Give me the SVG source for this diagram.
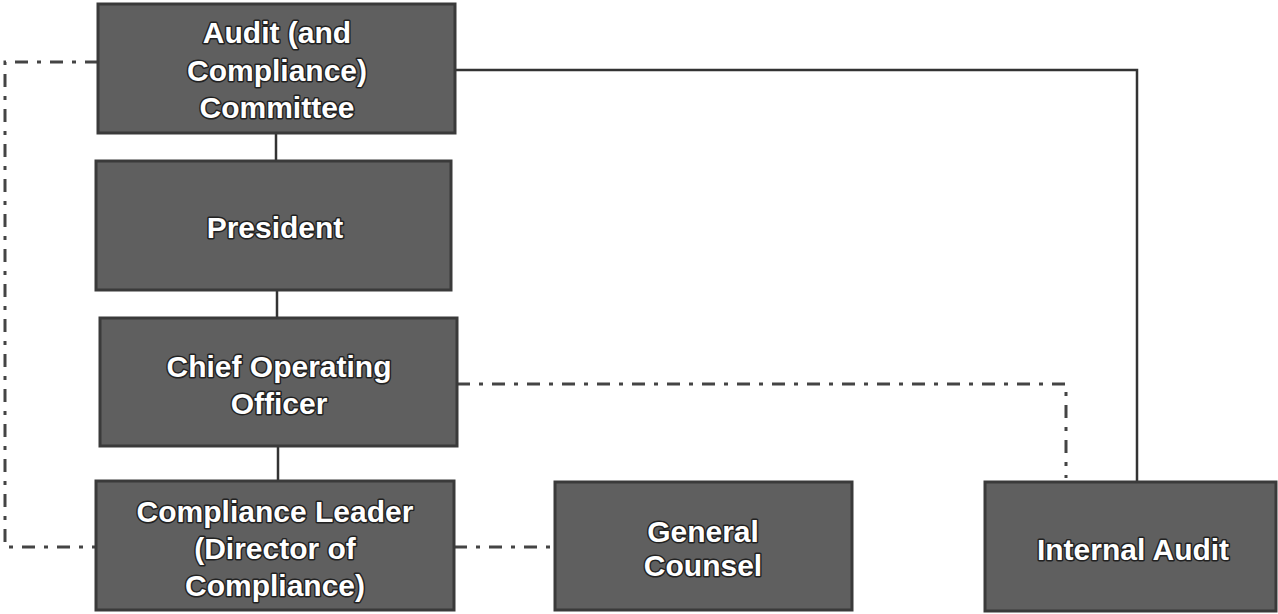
<svg xmlns="http://www.w3.org/2000/svg" width="1278" height="614" viewBox="0 0 1278 614">
<style>
.box{fill:#5f5f5f;stroke:#3a3a3a;stroke-width:3}
.t{font-family:"Liberation Sans",Arial,sans-serif;font-weight:bold;font-size:30px;fill:#ffffff;text-anchor:middle;stroke:#222;stroke-width:3px;paint-order:stroke;stroke-linejoin:round}
.solid{fill:none;stroke:#333;stroke-width:2.5}
.dd{fill:none;stroke:#444;stroke-width:3;stroke-dasharray:13,9,4,9}
</style>
<rect width="1278" height="614" fill="#ffffff"/>
<g id="connectors">
<line class="solid" x1="276" y1="133" x2="276" y2="161"/>
<line class="solid" x1="277" y1="290" x2="277" y2="318"/>
<line class="solid" x1="278" y1="446" x2="278" y2="481"/>
<polyline class="solid" points="455,70 1137,70 1137,482"/>
<polyline class="dd" points="457,384 1066,384 1066,478"/>
<polyline class="dd" points="98,62 5,62 5,547 96,547"/>
<line class="dd" x1="454" y1="547" x2="555" y2="547"/>
</g>
<g id="audit-committee">
<rect class="box" x="98" y="4" width="357" height="129"/>
<text class="t" x="277" y="43">Audit (and</text>
<text class="t" x="277" y="81">Compliance)</text>
<text class="t" x="277" y="118">Committee</text>
</g>
<g id="president">
<rect class="box" x="96" y="161" width="355" height="129"/>
<text class="t" x="275" y="238">President</text>
</g>
<g id="coo">
<rect class="box" x="100" y="318" width="357" height="128"/>
<text class="t" x="279" y="377">Chief Operating</text>
<text class="t" x="279" y="414">Officer</text>
</g>
<g id="compliance-leader">
<rect class="box" x="96" y="481" width="358" height="129"/>
<text class="t" x="275" y="522">Compliance Leader</text>
<text class="t" x="275" y="559">(Director of</text>
<text class="t" x="275" y="596">Compliance)</text>
</g>
<g id="general-counsel">
<rect class="box" x="555" y="482" width="297" height="128"/>
<text class="t" x="703" y="542">General</text>
<text class="t" x="703" y="576">Counsel</text>
</g>
<g id="internal-audit">
<rect class="box" x="985" y="482" width="291" height="129"/>
<text class="t" x="1133" y="560">Internal Audit</text>
</g>
</svg>
